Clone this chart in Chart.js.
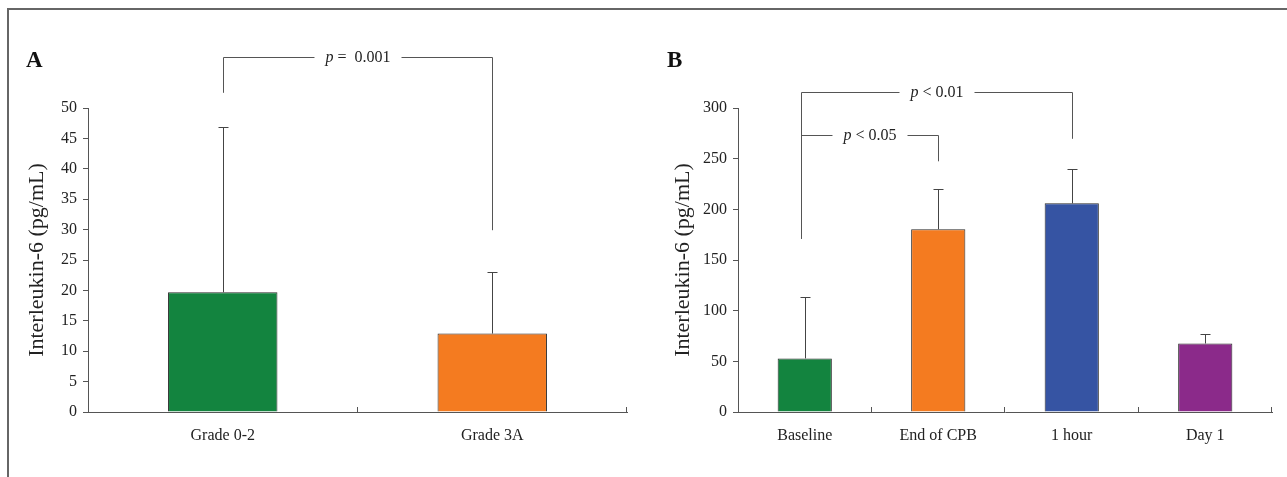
<!DOCTYPE html>
<html lang="en">
<head>
<meta charset="UTF-8">
<title>Interleukin-6</title>
<script src="https://cdn.jsdelivr.net/npm/chart.js@4"></script>
<style>
  body { margin: 0; background: #fff; font-family: "Liberation Serif", "Times New Roman", serif; }
  #frame { position: absolute; left: 7px; top: 8px; width: 1300px; height: 500px;
           border-left: 2px solid #666; border-top: 2px solid #666; }
  .panel { position: absolute; top: 0; height: 477px; }
  #panelA { left: 0; width: 645px; }
  #panelB { left: 645px; width: 642px; }
  .letter { position: absolute; top: 47px; font-weight: bold; font-size: 23px; color: #111; }
</style>
</head>
<body>
<div id="frame"></div>
<div class="panel" id="panelA"><canvas id="chartA"></canvas></div>
<div class="panel" id="panelB"><canvas id="chartB"></canvas></div>
<div class="letter" style="left:26px">A</div>
<div class="letter" style="left:667px">B</div>

<script>
// panel A
const catsA = ['Grade 0-2', 'Grade 3A'];
const meanA = [19.7, 12.9];
const sdA = [27.2, 10.1];
const ticksA = [0, 50, 5]; // min, max, step

// panel B
const catsB = ['Baseline', 'End of CPB', '1 hour', 'Day 1'];
const meanB = [52.9, 180.4, 205.9, 67.6];
const sdB = [60.4, 39.8, 34.3, 8.9];
const ticksB = [0, 300, 50];

// significance brackets: categories joined, bracket level, where each leg ends, label
const sigA = [
  { from: 0, to: 1, level: 58.4, fromEnd: 52.5, toEnd: 29.9, text: ' =  0.001' }
];
const sigB = [
  { from: 0, to: 2, level: 315.3, fromEnd: 170.9, toEnd: 269.6, text: ' < 0.01' },
  { from: 0, to: 1, level: 273.8, fromEnd: 170.9, toEnd: 247.4, text: ' < 0.05' }
];

const serif = '"Liberation Serif", "Times New Roman", serif';

// error bars, upward ticks on the x axis and the p-value brackets
const extras = {
  id: 'extras',
  afterDatasetsDraw(chart, args, opts) {
    const ctx = chart.ctx;
    const xs = chart.scales.x, ys = chart.scales.y;
    const area = chart.chartArea;
    const meta = chart.getDatasetMeta(0);
    ctx.save();
    ctx.lineWidth = 1;
    ctx.strokeStyle = '#444';

    meta.data.forEach((bar, i) => {
      const top = Math.round(ys.getPixelForValue(opts.mean[i] + opts.sd[i])) + 0.5;
      const bx = Math.round(bar.x) + 0.5;
      ctx.beginPath();
      ctx.moveTo(bx, bar.y);
      ctx.lineTo(bx, top);
      ctx.moveTo(bx - 5, top);
      ctx.lineTo(bx + 5, top);
      ctx.stroke();
    });

    ctx.strokeStyle = '#555';
    const n = opts.mean.length;
    for (let i = 1; i <= n; i++) {
      const tx = Math.round(area.left + (area.right - area.left) * i / n) - 0.5;
      ctx.beginPath();
      ctx.moveTo(tx, area.bottom);
      ctx.lineTo(tx, area.bottom - 5);
      ctx.stroke();
    }

    ctx.fillStyle = '#222';
    ctx.textBaseline = 'alphabetic';
    opts.sig.forEach(s => {
      const x1 = Math.round(xs.getPixelForValue(s.from) + opts.shift) + 0.5;
      const x2 = Math.round(xs.getPixelForValue(s.to)) + 0.5;
      const ly = Math.round(ys.getPixelForValue(s.level)) + 0.5;
      ctx.font = 'italic 16px ' + serif;
      const wp = ctx.measureText('p').width;
      ctx.font = '16px ' + serif;
      const wt = ctx.measureText(s.text).width;
      const w = wp + wt;
      const cx = (x1 + x2) / 2;
      const gap = 11;
      ctx.beginPath();
      ctx.moveTo(x1, ys.getPixelForValue(s.fromEnd));
      ctx.lineTo(x1, ly);
      ctx.lineTo(cx - w / 2 - gap, ly);
      ctx.moveTo(cx + w / 2 + gap, ly);
      ctx.lineTo(x2, ly);
      ctx.lineTo(x2, ys.getPixelForValue(s.toEnd));
      ctx.stroke();
      ctx.textAlign = 'left';
      ctx.font = 'italic 16px ' + serif;
      ctx.fillText('p', cx - w / 2, ly + 4);
      ctx.font = '16px ' + serif;
      ctx.fillText(s.text, cx - w / 2 + wp, ly + 4);
    });
    ctx.restore();
  }
};

function makeChart(id, cats, mean, sd, ticks, sig, colors, pad, yWidth, shift) {
  return new Chart(document.getElementById(id), {
    type: 'bar',
    data: {
      labels: cats,
      datasets: [{
        data: mean,
        backgroundColor: colors,
        borderColor: '#2a2a2a',
        borderWidth: 1,
        categoryPercentage: 1,
        barPercentage: 0.406
      }]
    },
    options: {
      responsive: true,
      maintainAspectRatio: false,
      animation: false,
      layout: { padding: pad },
      plugins: {
        legend: { display: false },
        tooltip: { enabled: false },
        extras: { mean: mean, sd: sd, sig: sig, shift: shift }
      },
      scales: {
        x: {
          grid: { display: false },
          border: { display: true, color: '#555', width: 1 },
          ticks: { color: '#222', font: { family: serif, size: 16 }, padding: 6 },
          afterFit(s) { s.height = 65; }
        },
        y: {
          min: ticks[0],
          max: ticks[1],
          ticks: { stepSize: ticks[2], color: '#222', font: { family: serif, size: 16 }, padding: 6 },
          grid: { drawOnChartArea: false, drawTicks: true, tickLength: 5, color: '#555' },
          border: { display: true, color: '#555', width: 1 },
          title: {
            display: true,
            text: 'Interleukin-6 (pg/mL)',
            color: '#222',
            font: { family: serif, size: 22 },
            padding: 0
          },
          afterFit(s) { s.width = yWidth; }
        }
      }
    },
    plugins: [extras]
  });
}

makeChart('chartA', catsA, meanA, sdA, ticksA, sigA,
  ['#13843f', '#f47b20'],
  { left: 24, right: 18, top: 108, bottom: 0 }, 64, 0);

makeChart('chartB', catsB, meanB, sdB, ticksB, sigB,
  ['#13843f', '#f47b20', '#3654a3', '#8b2a8a'],
  { left: 25, right: 15, top: 108, bottom: 0 }, 68, -4);
</script>
</body>
</html>
